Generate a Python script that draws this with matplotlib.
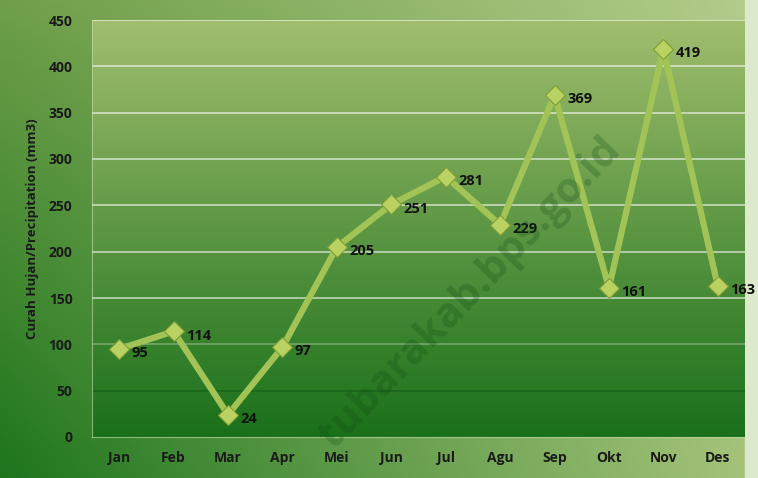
import numpy as np
import matplotlib.pyplot as plt
from matplotlib.colors import to_rgb

months = ["Jan", "Feb", "Mar", "Apr", "Mei", "Jun", "Jul", "Agu", "Sep", "Okt", "Nov", "Des"]
rainfall = [95, 114, 24, 97, 205, 251, 281, 229, 369, 161, 419, 163]
yticks = [0, 50, 100, 150, 200, 250, 300, 350, 400, 450]

FONT = ["Open Sans", "DejaVu Sans"]

fig = plt.figure(figsize=(7.58, 4.78), dpi=100)

# figure background: diagonal green gradient
bg = fig.add_axes([0, 0, 1, 1], zorder=-10)
h, w = 200, 300
yy, xx = np.mgrid[0:1:h * 1j, 0:1:w * 1j]
tl, tr = np.array(to_rgb("#6f9f4a")), np.array(to_rgb("#b3cd8a"))
bl, br = np.array(to_rgb("#1d751c")), np.array(to_rgb("#a6c47a"))
img = ((1 - yy)[..., None] * ((1 - xx)[..., None] * tl + xx[..., None] * tr)
       + yy[..., None] * ((1 - xx)[..., None] * bl + xx[..., None] * br))
bg.imshow(img, aspect="auto", extent=[0, 1, 0, 1], origin="upper")
bg.axvspan(745 / 758, 1, color="#dde9cc", zorder=2)
bg.set_xlim(0, 1)
bg.set_ylim(0, 1)
bg.axis("off")

ax = fig.add_axes([92 / 758, 41 / 478, 653 / 758, 417 / 478])
ax.set_xlim(-0.5, 11.5)
ax.set_ylim(0, 450)

# plot area: vertical gradient
grad = np.linspace(0, 1, 256)[:, None]
top, bot = np.array(to_rgb("#a0be6e")), np.array(to_rgb("#1a701a"))
pa = (1 - grad)[..., None] * top + grad[..., None] * bot
pa = np.repeat(pa, 2, axis=1)
ax.imshow(pa, aspect="auto", extent=[-0.5, 11.5, 0, 450], origin="upper", zorder=0)

for v in yticks[1:]:
    if v == 50:
        ax.axhline(v, color="#15601a", lw=1.2, alpha=0.7, zorder=1)
    elif v == 100:
        ax.axhline(v, color="white", lw=1.2, alpha=0.3, zorder=1)
    else:
        ax.axhline(v, color="white", lw=1.4, alpha=0.55, zorder=1)

x = np.arange(len(months))
ax.plot(x, rainfall, color="#a2c456", lw=4.5, zorder=3, solid_joinstyle="miter")
ax.plot(x, rainfall, ls="none", marker="D", ms=10, mfc="#b9d262", mec="#7f9e35", mew=0.8, zorder=4)

for xi, v in zip(x, rainfall):
    ax.annotate(str(v), (xi, v), xytext=(9, -3), textcoords="offset points",
                fontsize=10.5, fontweight="bold", family=FONT,
                color="#111111", va="center", ha="left", zorder=5)

ax.set_xticks(x)
ax.set_xticklabels(months)
ax.set_yticks(yticks)
for lab in ax.get_xticklabels() + ax.get_yticklabels():
    lab.set_fontweight("bold")
    lab.set_fontsize(10)
    lab.set_family(FONT)
    lab.set_color("#1a1a1a")
ax.tick_params(length=0, pad=10)
ax.tick_params(axis="y", pad=14)
ax.set_ylabel("Curah Hujan/Precipitation (mm3)", fontsize=9.5, fontweight="bold",
              family=FONT, color="#1a1a1a", labelpad=7)

for s in ["top", "right"]:
    ax.spines[s].set_visible(False)
for s in ["left", "bottom"]:
    ax.spines[s].set_color("#c8dcae")
    ax.spines[s].set_alpha(0.6)

# watermark
fig.text(0.62, 0.385, "tubarakab.bps.go.id", rotation=46, fontsize=30, fontweight="bold",
         family=FONT, color="#0e4a12", alpha=0.25,
         ha="center", va="center", zorder=10)

fig.savefig("out.png", dpi=100)
